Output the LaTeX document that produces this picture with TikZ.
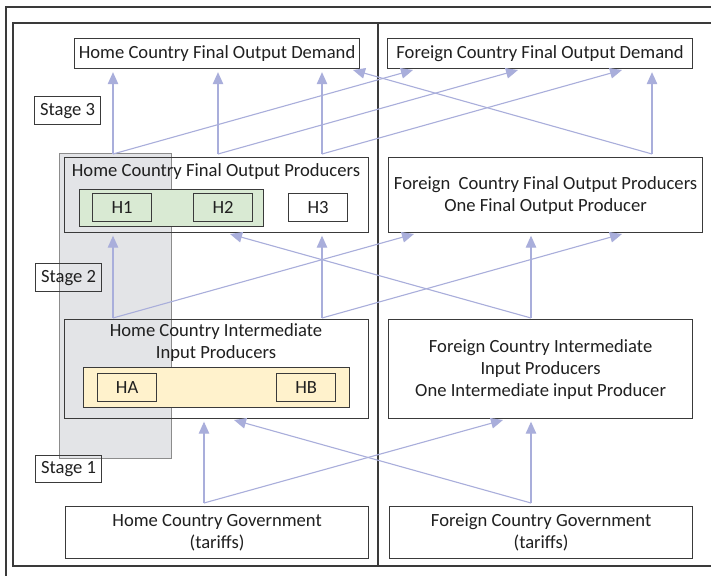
\documentclass[tikz,border=0pt]{standalone}
\usepackage{fontspec}
\setmainfont{Carlito}
\usetikzlibrary{arrows.meta,calc}
\definecolor{arrc}{HTML}{A9AEDB}
\definecolor{bord}{HTML}{3A3A3A}
\definecolor{txt}{HTML}{202020}
\definecolor{greenf}{HTML}{D9EAD3}
\definecolor{yellowf}{HTML}{FFF2CC}
\definecolor{grayf}{HTML}{E3E4E7}
\definecolor{grayb}{HTML}{8C8C8C}
\tikzset{
  box/.style={draw=bord, line width=1.2pt, inner sep=0pt, align=center, anchor=north west},
  lbl/.style={inner sep=0pt, align=center},
  frame/.style={draw=bord, line width=1.2pt},
  arr/.style={draw=arrc, line width=1.1pt, -{Triangle[length=12pt,width=10.5pt]}},
}
\begin{document}
\begin{tikzpicture}[x=1pt,y=-1pt, every node/.style={font=\fontsize{18.6}{22}\selectfont, text=txt}]
\useasboundingbox (0,0) rectangle (711,575);
\clip (0,0) rectangle (711,575);
\fill[white] (0,0) rectangle (711,575);

% frames
\draw[frame] (6,590) -- (6,7) -- (725,7);
\draw[frame] (725,23) -- (13,23) -- (13,566) -- (725,566);
\draw[frame] (378,23) -- (378,566);

% gray highlight
\node[draw=grayb, fill=grayf, line width=0.9pt, inner sep=0pt, anchor=north west, minimum width=112pt, minimum height=305pt] (grayband) at (59,153) {};

% stage 3
\node[box, minimum width=285pt, minimum height=30pt] (hfod) at (74,38) {Home Country Final Output Demand};
\node[box, minimum width=305pt, minimum height=30pt] (ffod) at (387,38) {Foreign Country Final Output Demand};
\node[box, minimum width=66pt, minimum height=28pt] (st3) at (34,96) {Stage 3};

% stage 2
\node[box, minimum width=304pt, minimum height=75pt] (hfop) at (64,157) {};
\node[lbl] (hfopt) at (216,172) {Home Country Final Output Producers};
\node[box, fill=greenf, minimum width=184pt, minimum height=37pt] (grn) at (79,189) {};
\node[box, fill=greenf, minimum width=59pt, minimum height=28pt] (h1) at (92,193) {H1};
\node[box, fill=greenf, minimum width=59pt, minimum height=28pt] (h2) at (193,193) {H2};
\node[box, fill=white, minimum width=59pt, minimum height=28pt] (h3) at (288,193) {H3};
\node[box, minimum width=314pt, minimum height=75pt] (ffop) at (388,157) {Foreign\ \ Country Final Output Producers\\One Final Output Producer};
\node[box, minimum width=66pt, minimum height=28pt] (st2) at (35,263) {Stage 2};

% stage 1
\node[box, minimum width=304pt, minimum height=99pt] (hiip) at (64,319) {};
\node[lbl] (hiipt) at (216,343) {Home Country Intermediate\\Input Producers};
\node[box, fill=yellowf, minimum width=266pt, minimum height=40pt] (ylw) at (83,367) {};
\node[box, fill=yellowf, minimum width=59pt, minimum height=28pt] (ha) at (97,373) {HA};
\node[box, fill=yellowf, minimum width=59pt, minimum height=28pt] (hb) at (276,373) {HB};
\node[box, minimum width=304pt, minimum height=99pt] (fiip) at (388,319) {Foreign Country Intermediate\\Input Producers\\One Intermediate input Producer};
\node[box, minimum width=66pt, minimum height=27pt] (st1) at (35,455) {Stage 1};

% governments
\node[box, minimum width=303pt, minimum height=52pt] (hg) at (65,506) {Home Country Government\\(tariffs)};
\node[box, minimum width=303pt, minimum height=52pt] (fg) at (389,506) {Foreign Country Government\\(tariffs)};

% stage 3 arrows
\coordinate (p3a) at (113,154);
\coordinate (p3b) at (218,154);
\coordinate (p3c) at (322,154);
\coordinate (p3d) at (652,154);
\coordinate (t3a) at (413,70);
\coordinate (t3b) at (518,70);
\coordinate (t3c) at (622,70);
\coordinate (t3d) at (353,70);
\draw[arr, shorten >=3pt] (p3a) -- (p3a |- hfod.south);
\draw[arr, shorten >=3pt] (p3b) -- (p3b |- hfod.south);
\draw[arr, shorten >=3pt] (p3c) -- (p3c |- hfod.south);
\draw[arr, shorten >=3pt] (p3d) -- (p3d |- ffod.south);
\draw[arr] (p3a) -- (t3a);
\draw[arr] (p3b) -- (t3b);
\draw[arr] (p3c) -- (t3c);
\draw[arr] (p3d) -- (t3d);

% stage 2 arrows
\coordinate (p2a) at (113,318);
\coordinate (p2b) at (322,318);
\coordinate (p2c) at (531,318);
\coordinate (t2a) at (414,234);
\coordinate (t2b) at (622,234);
\coordinate (t2c) at (230,234);
\draw[arr, shorten >=2.5pt] (p2a) -- (p2a |- hfop.south);
\draw[arr, shorten >=2.5pt] (p2b) -- (p2b |- hfop.south);
\draw[arr, shorten >=2.5pt] (p2c) -- (p2c |- ffop.south);
\draw[arr] (p2a) -- (t2a);
\draw[arr] (p2b) -- (t2b);
\draw[arr] (p2c) -- (t2c);

% stage 1 arrows
\coordinate (p1a) at (204,503);
\coordinate (p1b) at (531,503);
\coordinate (t1a) at (503,420);
\coordinate (t1b) at (234,420);
\draw[arr, shorten >=2.5pt] (p1a) -- (p1a |- hiip.south);
\draw[arr, shorten >=2.5pt] (p1b) -- (p1b |- fiip.south);
\draw[arr] (p1a) -- (t1a);
\draw[arr] (p1b) -- (t1b);
\end{tikzpicture}
\end{document}
